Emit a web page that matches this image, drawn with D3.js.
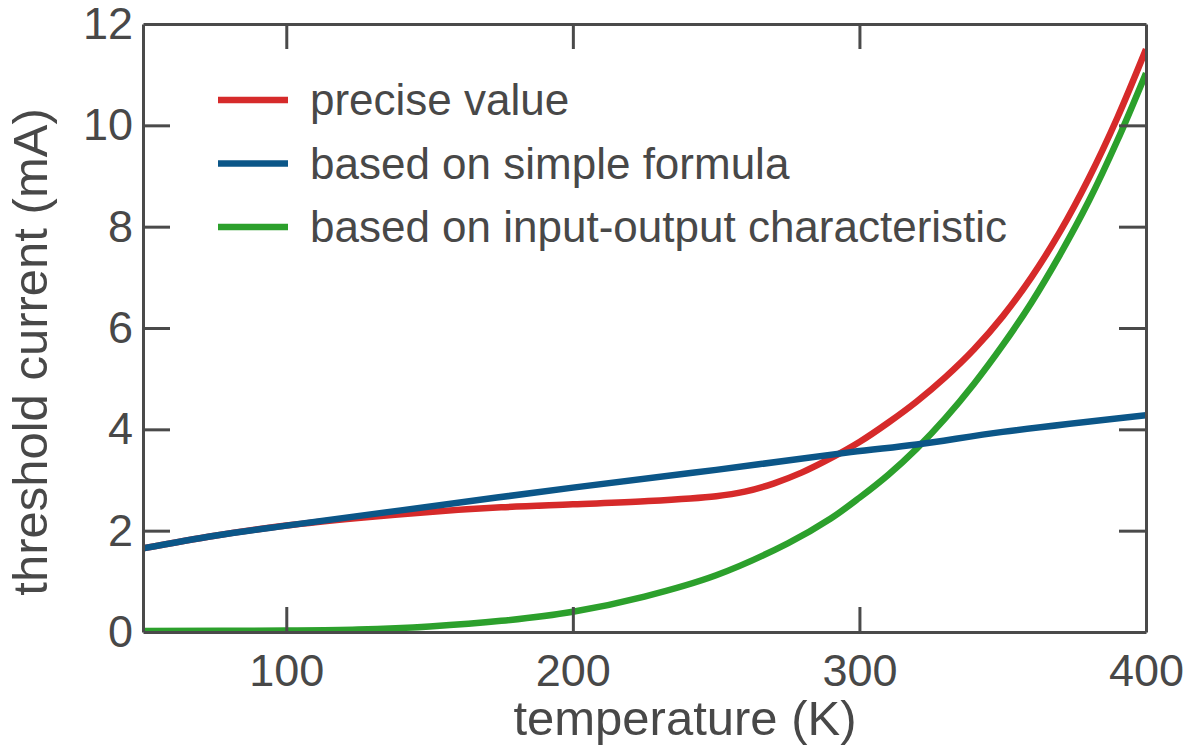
<!DOCTYPE html>
<html lang="en">
<head>
    <meta charset="UTF-8">
    <title>Threshold current vs temperature</title>
    <script src="https://d3js.org/d3.v7.min.js"></script>
    <style>
        body { margin: 0; background: #fff; }
        text { font-family: "Liberation Sans", Arial, sans-serif; fill: #484848; }
        .axis path, .axis line { stroke: #4a4a4a; stroke-width: 3px; }
        .axis text { font-size: 45px; fill: #484848; }
        .curve { fill: none; stroke-width: 6.5px; stroke-linecap: butt; }
    </style>
</head>
<body>
    <div id="chart"></div>
    <script>
        // temperature (K) and threshold current (mA)
        const precise = [
            [50, 1.65], [75, 1.9], [100, 2.1], [125, 2.25], [150, 2.37], [175, 2.46],
            [200, 2.52], [225, 2.58], [250, 2.68], [260, 2.77], [270, 2.93], [280, 3.15],
            [290, 3.43], [300, 3.75], [310, 4.13], [320, 4.55], [330, 5.03], [340, 5.58],
            [350, 6.23], [360, 7.0], [370, 7.9], [380, 8.95], [390, 10.15], [400, 11.5]
        ];
        const simple = [
            [50, 1.65], [75, 1.9], [100, 2.1], [140, 2.4], [200, 2.85], [250, 3.2],
            [297, 3.55], [320, 3.7], [350, 3.95], [400, 4.28]
        ];
        const inputOutput = [
            [50, 0.02], [100, 0.03], [125, 0.05], [150, 0.11], [175, 0.22], [200, 0.4],
            [225, 0.7], [250, 1.12], [275, 1.75], [290, 2.24], [300, 2.65], [310, 3.1],
            [320, 3.62], [330, 4.22], [340, 4.9], [350, 5.66], [360, 6.5], [370, 7.45],
            [380, 8.5], [390, 9.7], [400, 11.03]
        ];
        const seriesNames = ["precise value", "based on simple formula", "based on input-output characteristic"];
        const seriesColors = ["#d62a2a", "#0b5688", "#2ca02c"];
        const xTicks = [100, 200, 300, 400];
        const yTicks = [0, 2, 4, 6, 8, 10, 12];

        const width = 1194, height = 747;
        const margin = { top: 24, right: 48, bottom: 115, left: 143 };
        const w = width - margin.left - margin.right;
        const h = height - margin.top - margin.bottom;

        const svg = d3.select("#chart").append("svg")
            .attr("width", width)
            .attr("height", height);

        const g = svg.append("g")
            .attr("transform", `translate(${margin.left},${margin.top})`);

        const x = d3.scaleLinear().domain([50, 400]).range([0, w]);
        const y = d3.scaleLinear().domain([0, 12]).range([h, 0]);

        g.append("clipPath").attr("id", "clip")
            .append("rect").attr("width", w).attr("height", h);

        const line = d3.line()
            .x(d => x(d[0]))
            .y(d => y(d[1]))
            .curve(d3.curveCatmullRom.alpha(0.5));

        const curves = g.append("g").attr("clip-path", "url(#clip)");
        [[inputOutput, 2], [precise, 0], [simple, 1]].forEach(([data, idx]) => {
            curves.append("path")
                .datum(data)
                .attr("class", "curve")
                .attr("stroke", seriesColors[idx])
                .attr("d", line);
        });

        // frame with inward ticks
        g.append("g").attr("class", "axis")
            .attr("transform", `translate(0,${h})`)
            .call(d3.axisBottom(x).tickValues(xTicks).tickSize(-25).tickPadding(22).tickSizeOuter(0))
            .call(a => a.selectAll(".tick").filter(d => d === 400).select("line").remove());
        g.append("g").attr("class", "axis")
            .call(d3.axisTop(x).tickValues([100, 200, 300]).tickSize(-25).tickFormat("").tickSizeOuter(0));
        g.append("g").attr("class", "axis")
            .call(d3.axisLeft(y).tickValues(yTicks).tickSize(-27).tickPadding(10).tickSizeOuter(0))
            .call(a => a.selectAll(".tick").filter(d => d === 0 || d === 12).select("line").remove());
        g.append("g").attr("class", "axis")
            .attr("transform", `translate(${w},0)`)
            .call(d3.axisRight(y).tickValues(yTicks.slice(1, -1)).tickSize(-27).tickFormat("").tickSizeOuter(0));

        g.selectAll(".axis text").attr("font-family", null);

        // axis titles
        svg.append("text")
            .attr("x", 685)
            .attr("y", 735)
            .attr("text-anchor", "middle")
            .style("font-size", "49px")
            .text("temperature (K)");
        svg.append("text")
            .attr("transform", "translate(47,352) rotate(-90)")
            .attr("text-anchor", "middle")
            .style("font-size", "49px")
            .text("threshold current (mA)");

        // legend
        const legend = svg.append("g").attr("transform", "translate(218,100)");
        seriesNames.forEach((name, i) => {
            const row = legend.append("g").attr("transform", `translate(0,${i * 63.5})`);
            row.append("line")
                .attr("x1", 0).attr("x2", 70)
                .attr("stroke", seriesColors[i])
                .attr("stroke-width", 6.5);
            row.append("text")
                .attr("x", 92)
                .attr("dy", "0.35em")
                .style("font-size", "44px")
                .text(name);
        });
    </script>
</body>
</html>
